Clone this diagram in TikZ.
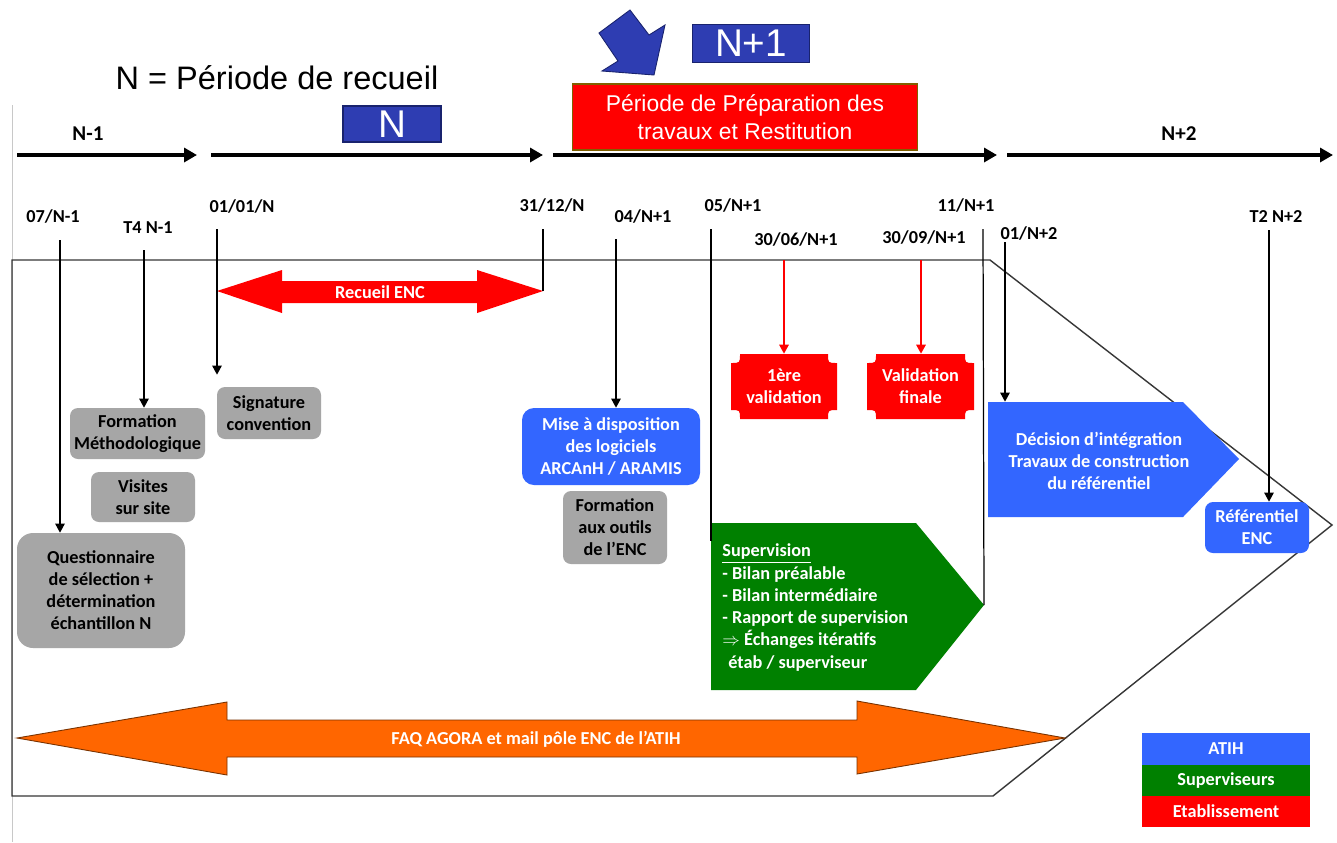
\documentclass[tikz,border=0pt]{standalone}
\usepackage{fontspec}
\setmainfont{Carlito}
\newfontfamily\arialf{Liberation Sans}
\usetikzlibrary{arrows.meta,calc}
\definecolor{grayc}{RGB}{166,166,166}
\definecolor{atih}{RGB}{51,102,255}
\definecolor{supc}{RGB}{0,128,0}
\definecolor{etab}{RGB}{255,0,0}
\definecolor{orangec}{RGB}{255,102,0}
\definecolor{oranged}{RGB}{120,50,0}
\definecolor{navyc}{RGB}{46,61,178}
\definecolor{navyd}{RGB}{25,35,110}
\definecolor{brownc}{RGB}{128,96,0}
\definecolor{framec}{RGB}{55,55,55}
\definecolor{faintc}{RGB}{200,200,200}
\newcommand\plaqueshape[5]{%
  \fill[etab] (#1+#5,#2) -- (#3-#5,#2) .. controls (#3-#5,#2+#5) .. (#3,#2+#5)
    -- (#3,#4-#5) .. controls (#3-#5,#4-#5) .. (#3-#5,#4)
    -- (#1+#5,#4) .. controls (#1+#5,#4-#5) .. (#1,#4-#5)
    -- (#1,#2+#5) .. controls (#1+#5,#2+#5) .. (#1+#5,#2) -- cycle;}
\begin{document}
\begin{tikzpicture}[x=0.2mm,y=-0.2mm,
  lbl/.style={font=\bfseries\fontsize{10.4}{12.5}\selectfont, inner sep=0},
  per/.style={font=\bfseries\fontsize{12}{14}\selectfont, inner sep=0},
  box/.style={inner sep=0, align=center, rounded corners=1.6mm, font=\bfseries\fontsize{10.4}{12.5}\selectfont},
  graybox/.style={box, fill=grayc, text=black},
  bluebox/.style={box, fill=atih, text=white},
  wtext/.style={inner sep=0, align=center, text=white, font=\bfseries\fontsize{10.4}{12.5}\selectfont},
  ghost/.style={inner sep=0, minimum width=#1},
  vline/.style={line width=0.7pt, black},
  varr/.style={vline, -{Triangle[length=1.8mm,width=1.9mm]}},
  rarr/.style={line width=0.9pt, etab, -{Triangle[length=1.8mm,width=1.9mm]}},
  tl/.style={line width=0.8mm, -{Triangle[length=2.6mm,width=2.8mm]}},
  legendbox/.style={inner sep=0, minimum width=168*0.2mm, text=white, font=\bfseries\fontsize{10.4}{12.5}\selectfont},
  ]
\useasboundingbox (0,0) rectangle (1337,842);
\fill[white] (0,0) rectangle (1337,842);

% faint left edge and frame
\draw[faintc, line width=0.5pt] (12,105) -- (12,842);
\draw[framec, line width=0.8pt] (12,260) -- (990,260) -- (1332,525) -- (993,796) -- (12,796) -- cycle;

% title and period boxes
\node[font=\arialf\fontsize{18.5}{22}\selectfont, inner sep=0] (title) at (277,78) {N = Période de recueil};
\node[fill=navyc, draw=navyd, line width=0.6pt, minimum width=98*0.2mm, minimum height=36*0.2mm, inner sep=0,
      text=white, font=\arialf\fontsize{22}{24}\selectfont] (nbox) at (392,124) {N};
\node[fill=navyc, draw=navyd, line width=0.6pt, minimum width=117*0.2mm, minimum height=38*0.2mm, inner sep=0,
      text=white, font=\arialf\fontsize{22}{24}\selectfont] (n1box) at (751,43.5) {N+1};
\fill[navyc, draw=navyd, line width=0.5pt] (630,10) -- (649,35) -- (665,25) -- (654,75) -- (602,71) -- (618,61) -- (599,33) -- cycle;
\node[fill=etab, draw=brownc, line width=1.1pt, minimum width=345*0.2mm, minimum height=66*0.2mm, inner sep=0,
      align=center, text=white, font=\arialf\fontsize{13}{16}\selectfont] (prep) at (745,117)
      {Période de Préparation des\\travaux et Restitution};

% timeline arrows
\coordinate (a1s) at (17,155);  \coordinate (a1e) at (197,155);
\coordinate (a2s) at (211,155); \coordinate (a2e) at (543,155);
\coordinate (a3s) at (553,155); \coordinate (a3e) at (997,155);
\coordinate (a4s) at (1007,155);\coordinate (a4e) at (1333,155);
\draw[tl] (a1s) -- (a1e);
\draw[tl] (a2s) -- (a2e);
\draw[tl] (a3s) -- (a3e);
\draw[tl] (a4s) -- (a4e);
\node[per] (pN1) at (88,134) {N-1};
\node[per] (pN2) at (1179,134) {N+2};

% date labels
\node[lbl] (d07) at (53,216) {07/N-1};
\node[lbl] (dT4) at (148,228) {T4 N-1};
\node[lbl] (d0101) at (242,206) {01/01/N};
\node[lbl] (d3112) at (552,205) {31/12/N};
\node[lbl] (d04) at (643,216) {04/N+1};
\node[lbl] (d05) at (733,205) {05/N+1};
\node[lbl] (d3006) at (796,239) {30/06/N+1};
\node[lbl] (d3009) at (924,237) {30/09/N+1};
\node[lbl] (d11) at (966,205) {11/N+1};
\node[lbl] (d01N2) at (1029,233) {01/N+2};
\node[lbl] (dT2) at (1276,216) {T2 N+2};

% shapes
\fill[etab] (217,291) -- (282,270) -- (282,281) -- (477,281) -- (477,270) -- (543,291)
   -- (477,313) -- (477,303) -- (282,303) -- (282,313) -- cycle;
\coordinate (rectip) at (543,291);
\node[wtext] (rec) at (380,292) {Recueil ENC};

\fill[orangec, draw=oranged, line width=0.5pt] (17,738) -- (227,702) -- (227,720) -- (857,720) -- (857,701) -- (1065,738)
   -- (857,774) -- (857,757) -- (227,757) -- (227,775) -- cycle;
\node[wtext] (faq) at (536,739) {FAQ AGORA et mail pôle ENC de l’ATIH};

\node[graybox, minimum width=168*0.2mm, minimum height=115*0.2mm, rounded corners=3.2mm] (q) at (101,590.5)
   {Questionnaire\\de sélection +\\détermination\\échantillon N};
\node[graybox, minimum width=135*0.2mm, minimum height=51*0.2mm] (fm) at (137.5,433.5) {Formation\\Méthodologique};
\node[graybox, minimum width=104*0.2mm, minimum height=52*0.2mm] (sig) at (269,413) {Signature\\convention};
\node[graybox, minimum width=104*0.2mm, minimum height=50*0.2mm] (vis) at (143,497) {Visites\\sur site};
\node[bluebox, minimum width=178*0.2mm, minimum height=77*0.2mm, rounded corners=2.4mm] (mise) at (611,446.5)
   {Mise à disposition\\des logiciels\\ARCAnH / ARAMIS};
\node[graybox, minimum width=104*0.2mm, minimum height=73*0.2mm] (fo) at (615,527.5) {Formation\\aux outils\\de l’ENC};

\plaqueshape{731}{354}{837}{419}{9}
\plaqueshape{867}{354}{974}{419}{9}
\node[wtext, minimum width=106*0.2mm, minimum height=65*0.2mm] (v1) at (784,386.5) {1ère\\validation};
\node[wtext, minimum width=107*0.2mm, minimum height=65*0.2mm] (v2) at (920.5,386.5) {Validation\\finale};

\fill[supc] (711,523) -- (916,523) -- (984,605) -- (916,690) -- (711,690) -- cycle;
\node[inner sep=0, minimum width=205*0.2mm, minimum height=167*0.2mm] (supbox) at (813.5,606.5) {};
\coordinate (suptip) at (984,605);
\node[inner sep=0, anchor=west, align=left, text=white, font=\bfseries\fontsize{10.4}{12.65}\selectfont] (sup) at (722,607.5)
   {\underline{Supervision}\\- Bilan préalable\\- Bilan intermédiaire\\- Rapport de supervision\\$\Rightarrow$ Échanges itératifs\\\hspace*{1.2mm}étab / superviseur};

\fill[atih] (988,402) -- (1183,402) -- (1239,459) -- (1183,517) -- (988,517) -- cycle;
\node[inner sep=0, minimum width=195*0.2mm, minimum height=115*0.2mm] (decbox) at (1085.5,459.5) {};
\node[wtext] (dec) at (1099,461) {Décision d’intégration\\Travaux de construction\\du référentiel};

\node[bluebox, minimum width=104*0.2mm, minimum height=51*0.2mm] (ref) at (1257,527.5) {Référentiel\\ENC};

% vertical connectors
\coordinate (l07) at (60,240);
\coordinate (lT4) at (144,250);
\coordinate (l0101) at (217,229);
\coordinate (l3112) at (543,229);
\coordinate (l04) at (616,239);
\coordinate (l05) at (711,229);
\coordinate (l3006) at (784,260);
\coordinate (l3009) at (921,260);
\coordinate (l11) at (983,229);
\coordinate (l01N2) at (1005,242);
\coordinate (lT2) at (1269,230);
\draw[varr] (l07) -- (l07 |- q.north);
\draw[varr] (lT4) -- (lT4 |- fm.north);
\draw[varr] (l0101) -- ($(l0101 |- sig.north)+(0,-12)$);
\draw[vline] (l3112) -- (rectip);
\draw[varr] (l04) -- (l04 |- mise.north);
\draw[vline] (l05) -- ($(l05 |- supbox.north)+(0,18)$);
\draw[rarr] (l3006) -- (l3006 |- v1.north);
\draw[rarr] (l3009) -- (l3009 |- v2.north);
\draw[vline] (l11) -- (suptip);
\draw[varr] (l01N2) -- (l01N2 |- decbox.north);
\draw[varr] (lT2) -- (lT2 |- ref.north);

% legend
\node[legendbox, fill=atih, minimum height=32*0.2mm] (lgA) at (1226,749) {ATIH};
\node[legendbox, fill=supc, minimum height=31*0.2mm] (lgS) at (1226,780.5) {Superviseurs};
\node[legendbox, fill=etab, minimum height=31*0.2mm] (lgE) at (1226,811.5) {Etablissement};
\end{tikzpicture}
\end{document}
